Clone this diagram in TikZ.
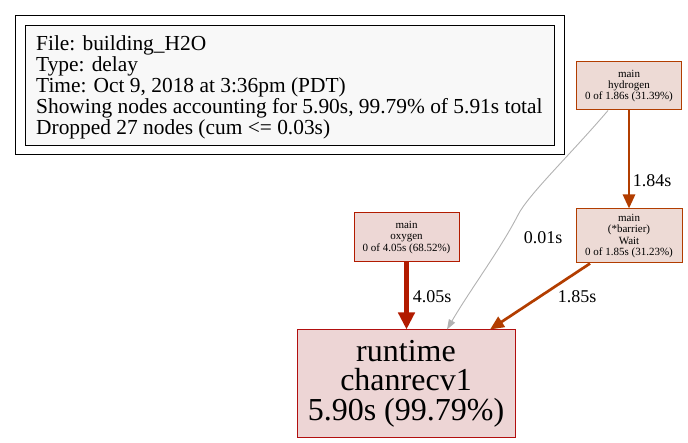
\documentclass[tikz,border=0pt]{standalone}
\usepackage{fontspec}
\setmainfont{Liberation Serif}
\usetikzlibrary{arrows.meta,calc}
\definecolor{legfill}{HTML}{F8F8F8}
\definecolor{hydfill}{HTML}{EDDAD5}
\definecolor{hyddraw}{HTML}{B23D00}
\definecolor{oxyfill}{HTML}{EDD7D5}
\definecolor{oxydraw}{HTML}{B21B00}
\definecolor{runfill}{HTML}{EDD5D5}
\definecolor{rundraw}{HTML}{B20F0F}
\definecolor{edgegray}{HTML}{B2B2B2}
\tikzset{
  smallnode/.style={rectangle, draw=hyddraw, fill=hydfill, line width=1pt, inner sep=0pt, align=center,
    font=\fontsize{11}{11.2}\selectfont},
  edgelabel/.style={font=\fontsize{18}{18}\selectfont, inner sep=0pt},
  hotedge/.style={draw=hyddraw, line width=2.7pt, -{Triangle[length=14pt,width=12pt]}},
  vhotedge/.style={draw=oxydraw, line width=5pt, -{Triangle[length=17pt,width=16pt]}},
  coldedge/.style={draw=edgegray, line width=0.9pt, -{Triangle[length=10pt,width=7pt]}},
}
\begin{document}
\begin{tikzpicture}[x=1pt,y=-1pt]
\useasboundingbox (0,0) rectangle (688,443);
% legend
\node[draw=black, line width=0.9pt, minimum width=549pt, minimum height=139pt, inner sep=0pt] (legout) at (289.5,84.5) {};
\node[draw=black, line width=0.9pt, fill=legfill, minimum width=529pt, minimum height=120pt, inner sep=0pt] (legin) at (289.5,85) {};
\node[anchor=west, align=left, inner sep=0pt, font=\fontsize{21.4}{21}\selectfont] (legtext) at (36,87)
  {File: building\_H2O\\Type: delay\\Time: Oct 9, 2018 at 3:36pm (PDT)\\Showing nodes accounting for 5.90s, 99.79\% of 5.91s total\\Dropped 27 nodes (cum <= 0.03s)};
% nodes
\node[smallnode, minimum width=105pt, minimum height=48pt] (hyd) at (629,86) {main\\hydrogen\\0 of 1.86s (31.39\%)};
\node[smallnode, minimum width=106pt, minimum height=54pt] (bar) at (629,236) {main\\(*barrier)\\Wait\\0 of 1.85s (31.23\%)};
\node[smallnode, draw=oxydraw, fill=oxyfill, minimum width=105pt, minimum height=49pt] (oxy) at (406.5,237.5) {main\\oxygen\\0 of 4.05s (68.52\%)};
\node[rectangle, draw=rundraw, fill=runfill, line width=1pt, inner sep=0pt, align=center,
  minimum width=218pt, minimum height=107pt, font=\fontsize{32}{29.5}\selectfont] (run) at (406,383.5)
  {runtime\\chanrecv1\\5.90s (99.79\%)};
% edges
\draw[hotedge] (hyd.south) -- (bar.north);
\node[edgelabel] (l184) at (652,181) {1.84s};
\draw[coldedge] ($(hyd.south)+(-21,0)$) .. controls (570,155) and (528,195) .. (518,215) .. controls (500,250) and (470,290) .. ($(run.north)+(41,0)$);
\node[edgelabel] (l001) at (543,238) {0.01s};
\draw[vhotedge] (oxy.south) -- (oxy.south |- run.north);
\node[edgelabel] (l405) at (432,297) {4.05s};
\draw[hotedge] ($(bar.south)+(-39,0)$) -- ($(run.north)+(84,0)$);
\node[edgelabel] (l185) at (577,297) {1.85s};
\end{tikzpicture}
\end{document}
